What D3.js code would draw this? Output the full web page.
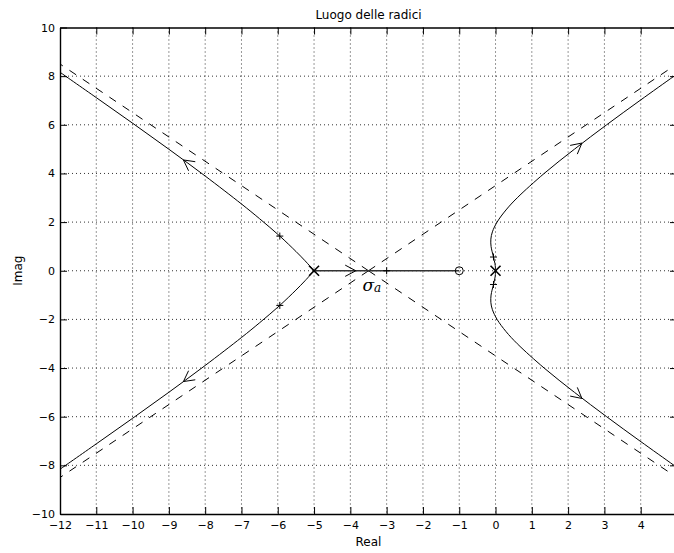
<!DOCTYPE html>
<html>
<head>
<meta charset="utf-8">
<script src="https://cdn.jsdelivr.net/npm/d3@7"></script>
<style>
  html, body { margin: 0; padding: 0; background: #fff; }
  svg { display: block; }
</style>
</head>
<body>
<script>
// Root locus of G(s) = (s + 1) / (s^2 (s + 5)^3)

// open-loop poles and zero
const poleRe = [-5, 0];
const poleIm = [0, 0];
const zeroRe = [-1];
const zeroIm = [0];
const sigmaA = -3.5;

// closed-loop roots at the marked gain
const gainRe = [-3, -5.944, -5.944, -0.056, -0.056];
const gainIm = [0, 1.425, -1.425, 0.564, -0.564];

// branches leaving the triple pole at -5
const upperLeftRe = [-5, -5.25, -5.5, -5.944, -6.5, -7, -8, -9, -10, -11, -12];
const upperLeftIm = [0, 0.413, 0.795, 1.425, 2.138, 2.745, 3.894, 4.995, 6.066, 7.117, 8.16];
const lowerLeftRe = [-5, -5.25, -5.5, -5.944, -6.5, -7, -8, -9, -10, -11, -12];
const lowerLeftIm = [0, -0.413, -0.795, -1.425, -2.138, -2.745, -3.894, -4.995, -6.066, -7.117, -8.16];

// branches leaving the double pole at the origin
const upperRightRe = [0, -0.0045, -0.017, -0.056, -0.096, -0.123, -0.129, -0.086, 0.043, 0.289, 0.599, 1.34, 2.176, 3.061, 3.98, 4.918, 5.2];
const upperRightIm = [0, 0.15, 0.3, 0.564, 0.8, 1.0, 1.3, 1.6, 2.0, 2.5, 3.0, 4.0, 5.0, 6.0, 7.0, 8.0, 8.3];
const lowerRightRe = [0, -0.0045, -0.017, -0.056, -0.096, -0.123, -0.129, -0.086, 0.043, 0.289, 0.599, 1.34, 2.176, 3.061, 3.98, 4.918, 5.2];
const lowerRightIm = [0, -0.15, -0.3, -0.564, -0.8, -1.0, -1.3, -1.6, -2.0, -2.5, -3.0, -4.0, -5.0, -6.0, -7.0, -8.0, -8.3];

// real-axis segment between the pole at -5 and the zero at -1
const realRe = [-5, -1];
const realIm = [0, 0];

// asymptote ends (lines start at sigmaA)
const asymEndRe = [-12, -12, 5, 5];
const asymEndIm = [8.5, -8.5, 8.5, -8.5];

// direction arrows: tip and a point behind it on the same branch
const arrowTipRe = [-8.6, -8.6, 2.38, 2.38, -3.85];
const arrowTipIm = [4.555, -4.555, 5.25, -5.25, 0];
const arrowFromRe = [-8, -8, 2.176, 2.176, -5];
const arrowFromIm = [3.894, -3.894, 5.0, -5.0, 0];

const xTicks = [-12, -11, -10, -9, -8, -7, -6, -5, -4, -3, -2, -1, 0, 1, 2, 3, 4, 5];
const yTicks = [-10, -8, -6, -4, -2, 0, 2, 4, 6, 8, 10];

const title = "Luogo delle radici";
const xLabel = "Real";
const yLabel = "Imag";

const W = 674, H = 553;
const mLeft = 60, mRight = 677, mTop = 27.5, mBottom = 514;

const x = d3.scaleLinear().domain([-12, 5]).range([mLeft, mRight]);
const y = d3.scaleLinear().domain([-10, 10]).range([mBottom, mTop]);

const svg = d3.select("body").append("svg")
  .attr("width", W).attr("height", H)
  .style("font-family", "'DejaVu Sans', sans-serif");

svg.append("defs").append("clipPath").attr("id", "plot")
  .append("rect")
  .attr("x", mLeft).attr("y", mTop)
  .attr("width", mRight - mLeft).attr("height", mBottom - mTop);

const fmt = v => (v < 0 ? "\u2212" + Math.abs(v) : String(v));

// dotted grid
const grid = svg.append("g")
  .attr("stroke", "#333").attr("stroke-width", 1)
  .attr("stroke-dasharray", "1,3");
grid.selectAll("line.gx")
  .data(xTicks.filter(v => v > -12 && v < 5))
  .join("line")
  .attr("x1", d => x(d)).attr("x2", d => x(d))
  .attr("y1", mTop).attr("y2", mBottom);
grid.selectAll("line.gy")
  .data(yTicks.filter(v => v > -10 && v < 10))
  .join("line")
  .attr("x1", mLeft).attr("x2", mRight)
  .attr("y1", d => y(d)).attr("y2", d => y(d));

const plot = svg.append("g").attr("clip-path", "url(#plot)");

// dashed asymptotes from the centroid
plot.selectAll("line.asym")
  .data(asymEndRe.map((re, i) => ({ re, im: asymEndIm[i] })))
  .join("line")
  .attr("x1", x(sigmaA)).attr("y1", y(0))
  .attr("x2", d => x(d.re)).attr("y2", d => y(d.im))
  .attr("stroke", "#000").attr("stroke-width", 1)
  .attr("stroke-dasharray", "8,8");

// locus branches
const zip = (re, im) => re.map((r, i) => [r, im[i]]);
const line = d3.line().x(d => x(d[0])).y(d => y(d[1])).curve(d3.curveCatmullRom.alpha(0.5));
const branches = [
  zip(upperLeftRe, upperLeftIm),
  zip(lowerLeftRe, lowerLeftIm),
  zip(upperRightRe, upperRightIm),
  zip(lowerRightRe, lowerRightIm)
];
plot.selectAll("path.branch")
  .data(branches)
  .join("path")
  .attr("d", line)
  .attr("fill", "none").attr("stroke", "#000").attr("stroke-width", 1);

plot.append("path")
  .attr("d", d3.line().x(d => x(d[0])).y(d => y(d[1]))(zip(realRe, realIm)))
  .attr("fill", "none").attr("stroke", "#333").attr("stroke-width", 1.6);

// direction arrows (open heads)
const barb = 12, spread = 28 * Math.PI / 180;
plot.selectAll("path.arrow")
  .data(arrowTipRe.map((re, i) => ({
    tx: x(re), ty: y(arrowTipIm[i]),
    fx: x(arrowFromRe[i]), fy: y(arrowFromIm[i])
  })))
  .join("path")
  .attr("d", d => {
    const a = Math.atan2(d.fy - d.ty, d.fx - d.tx);
    const p1 = [d.tx + barb * Math.cos(a + spread), d.ty + barb * Math.sin(a + spread)];
    const p2 = [d.tx + barb * Math.cos(a - spread), d.ty + barb * Math.sin(a - spread)];
    return `M${p1[0]},${p1[1]}L${d.tx},${d.ty}L${p2[0]},${p2[1]}`;
  })
  .attr("fill", "none").attr("stroke", "#000").attr("stroke-width", 1);

// gain markers (+)
const pr = 3.5;
plot.selectAll("path.gain")
  .data(gainRe.map((re, i) => [x(re), y(gainIm[i])]))
  .join("path")
  .attr("d", d => `M${d[0] - pr},${d[1]}H${d[0] + pr}M${d[0]},${d[1] - pr}V${d[1] + pr}`)
  .attr("stroke", "#000").attr("stroke-width", 1);

// poles (x)
const xr = 5;
plot.selectAll("path.pole")
  .data(poleRe.map((re, i) => [x(re), y(poleIm[i])]))
  .join("path")
  .attr("d", d => `M${d[0] - xr},${d[1] - xr}L${d[0] + xr},${d[1] + xr}M${d[0] - xr},${d[1] + xr}L${d[0] + xr},${d[1] - xr}`)
  .attr("stroke", "#000").attr("stroke-width", 1.6);

// zero (o)
plot.selectAll("circle.zero")
  .data(zeroRe.map((re, i) => [x(re), y(zeroIm[i])]))
  .join("circle")
  .attr("cx", d => d[0]).attr("cy", d => d[1]).attr("r", 4)
  .attr("fill", "none").attr("stroke", "#000").attr("stroke-width", 1);

// centroid label
const sig = svg.append("text")
  .attr("x", x(sigmaA) - 6).attr("y", y(0) + 20)
  .attr("font-family", "'DejaVu Serif', serif")
  .attr("font-style", "italic")
  .attr("font-size", 17);
sig.append("tspan").text("\u03C3");
sig.append("tspan").attr("font-size", 12).attr("dy", 1.5).text("a");

// axes with inward ticks on all four sides
function styleAxis(g) {
  g.attr("font-family", "'DejaVu Sans', sans-serif").attr("font-size", 11);
  g.select(".domain").attr("stroke", "#000").attr("stroke-width", 1.4);
  g.selectAll(".tick line").attr("stroke", "#000").attr("stroke-width", 1);
  g.selectAll(".tick text").attr("fill", "#000");
}
svg.append("g").attr("transform", `translate(0,${mBottom})`)
  .call(d3.axisBottom(x).tickValues(xTicks).tickFormat(fmt).tickSizeInner(-7).tickSizeOuter(0).tickPadding(6.7))
  .call(styleAxis);
svg.append("g").attr("transform", `translate(0,${mTop})`)
  .call(d3.axisTop(x).tickValues(xTicks).tickFormat("").tickSizeInner(-7).tickSizeOuter(0))
  .call(styleAxis);
svg.append("g").attr("transform", `translate(${mLeft},0)`)
  .call(d3.axisLeft(y).tickValues(yTicks).tickFormat(fmt).tickSizeInner(-7).tickSizeOuter(0).tickPadding(5))
  .call(styleAxis);
svg.append("g").attr("transform", `translate(${mRight},0)`)
  .call(d3.axisRight(y).tickValues(yTicks).tickFormat("").tickSizeInner(-7).tickSizeOuter(0))
  .call(styleAxis);

// titles
svg.append("text")
  .attr("x", (mLeft + mRight) / 2).attr("y", 19)
  .attr("text-anchor", "middle").attr("font-size", 12)
  .text(title);
svg.append("text")
  .attr("x", (mLeft + mRight) / 2).attr("y", 546)
  .attr("text-anchor", "middle").attr("font-size", 12)
  .text(xLabel);
svg.append("text")
  .attr("transform", `translate(22,${y(0)}) rotate(-90)`)
  .attr("text-anchor", "middle").attr("font-size", 12)
  .text(yLabel);
</script>
</body>
</html>
